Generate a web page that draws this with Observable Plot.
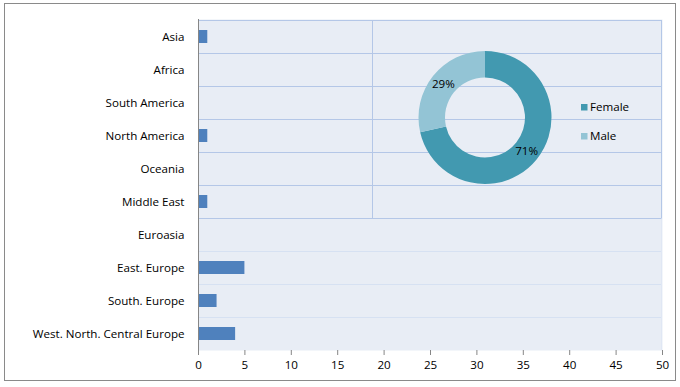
<!DOCTYPE html>
<html><head><meta charset="utf-8">
<script src="https://cdn.jsdelivr.net/npm/d3@7"></script>
<script src="https://cdn.jsdelivr.net/npm/@observablehq/plot@0.6"></script>
<style>
body{margin:0;background:#fff;}
#wrap{position:relative;width:680px;height:387px;overflow:hidden;}
#wrap svg{position:absolute;left:0;top:0;}
#border{position:absolute;left:4px;top:3px;width:670px;height:376px;border:1px solid #8a8a8a;pointer-events:none;}
</style></head><body><div id="wrap"><div id="border"></div></div>
<script>
const regions = ["Asia","Africa","South America","North America","Oceania","Middle East","Euroasia","East. Europe","South. Europe","West. North. Central Europe"];
const counts = [1,0,0,1,0,1,0,5,2,4];
const genders = ["Female","Male"];
const genderCounts = [10,4];
const xTicks = [0,5,10,15,20,25,30,35,40,45,50];

const FONT = "'Open Sans', 'Noto Sans', sans-serif";
const FS = 11.6;
const barColor = "#4f81bd";
const genderColors = ["#4299b0","#93c4d5"];
const bg = "#e8edf5";
const gridDark = "#b4c7e7";
const gridLight = "#d6e1f2";
const axisGrey = "#868686";

const rows = regions.map((r,i)=>({region:r, count:counts[i]}));
const panelRows = 6;     // rows covered by the doughnut panel (Asia..Middle East)
const panelX1 = 18.75;   // left edge of doughnut panel, in x units

function bandWidth(y) { return typeof y.bandwidth === "function" ? y.bandwidth() : y.bandwidth; }

function gridMark(index, scales, values, dims) {
  const {x, y} = scales;
  const bw = bandWidth(y);
  const g = d3.create("svg:g").attr("fill","none").attr("stroke-width",1);
  const x0 = Math.round(x(0)), x50 = Math.round(x(50));
  regions.forEach((r,i)=>{
    const yy = Math.round(y(r)) + 0.5;
    if (i > panelRows) g.append("line").attr("x1",x0).attr("x2",x50).attr("y1",yy).attr("y2",yy).attr("stroke",gridLight);
  });
  regions.forEach((r,i)=>{
    const yy = Math.round(y(r)) + 0.5;
    if (i <= panelRows) g.append("line").attr("x1",x0).attr("x2",x50).attr("y1",yy).attr("y2",yy).attr("stroke",gridDark);
  });
  const yTop = Math.round(y(regions[0])) + 0.5;
  const yBot = Math.round(y(regions[panelRows])) + 0.5;
  const yEnd = Math.round(y(regions[regions.length-1]) + bw);
  const xp = Math.round(x(panelX1)) + 0.5;
  g.append("line").attr("x1",xp).attr("x2",xp).attr("y1",yTop).attr("y2",yBot).attr("stroke",gridDark);
  g.append("line").attr("x1",x50-0.5).attr("x2",x50-0.5).attr("y1",yTop).attr("y2",yBot).attr("stroke",gridDark);
  g.append("line").attr("x1",x50-0.5).attr("x2",x50-0.5).attr("y1",yBot).attr("y2",yEnd).attr("stroke","#e0e7f4");
  return g.node();
}

function donutMark(index, scales, values, dims) {
  const cx = 485, cy = 117.5, rIn = 40, rOut = 66.5;
  const total = d3.sum(genderCounts);
  const g = d3.create("svg:g").attr("font-family", FONT).attr("font-size", FS);
  const pie = d3.pie().sort(null)(genderCounts);
  const arc = d3.arc().innerRadius(rIn).outerRadius(rOut);
  const c = g.append("g").attr("transform", `translate(${cx},${cy})`);
  c.selectAll("path").data(pie).join("path").attr("d", arc).attr("fill", (d,i)=>genderColors[i]);
  c.selectAll("text").data(pie).join("text")
    .attr("transform", d=>`translate(${arc.centroid(d)})`)
    .attr("text-anchor","middle").attr("dy","0.35em").attr("fill","#000")
    .text(d=>d3.format(".0%")(d.data/total));
  const lg = g.append("g").attr("transform","translate(581,107)");
  genders.forEach((name,i)=>{
    const item = lg.append("g").attr("transform",`translate(0,${i*29})`);
    item.append("rect").attr("x",0).attr("y",-3).attr("width",6.5).attr("height",6.5).attr("fill",genderColors[i]);
    item.append("text").attr("x",9).attr("dy","0.35em").attr("text-anchor","start").attr("fill","#000").text(name);
  });
  return g.node();
}

const chart = Plot.plot({
  width: 680, height: 387,
  marginLeft: 198, marginRight: 18, marginTop: 19, marginBottom: 37,
  style: {fontFamily: FONT, fontSize: FS + "px", color: "#000", background: "transparent"},
  x: {domain: [0,50], label: null},
  y: {domain: regions, padding: 0, label: null},
  marks: [
    Plot.frame({fill: bg, stroke: null}),
    gridMark,
    Plot.barX(rows, {x: "count", y: "region", fill: barColor, insetTop: 10, insetBottom: 10}),
    donutMark,
    Plot.axisX({ticks: xTicks, tickSize: 5, tickPadding: 5, stroke: axisGrey, label: null}),
    Plot.axisY({tickSize: 0, tickPadding: 14, label: null}),
    Plot.ruleX([0], {stroke: axisGrey}),
    Plot.ruleY([0], {stroke: axisGrey, dy: 331})
  ]
});
document.getElementById("wrap").appendChild(chart);
</script>
</body></html>
